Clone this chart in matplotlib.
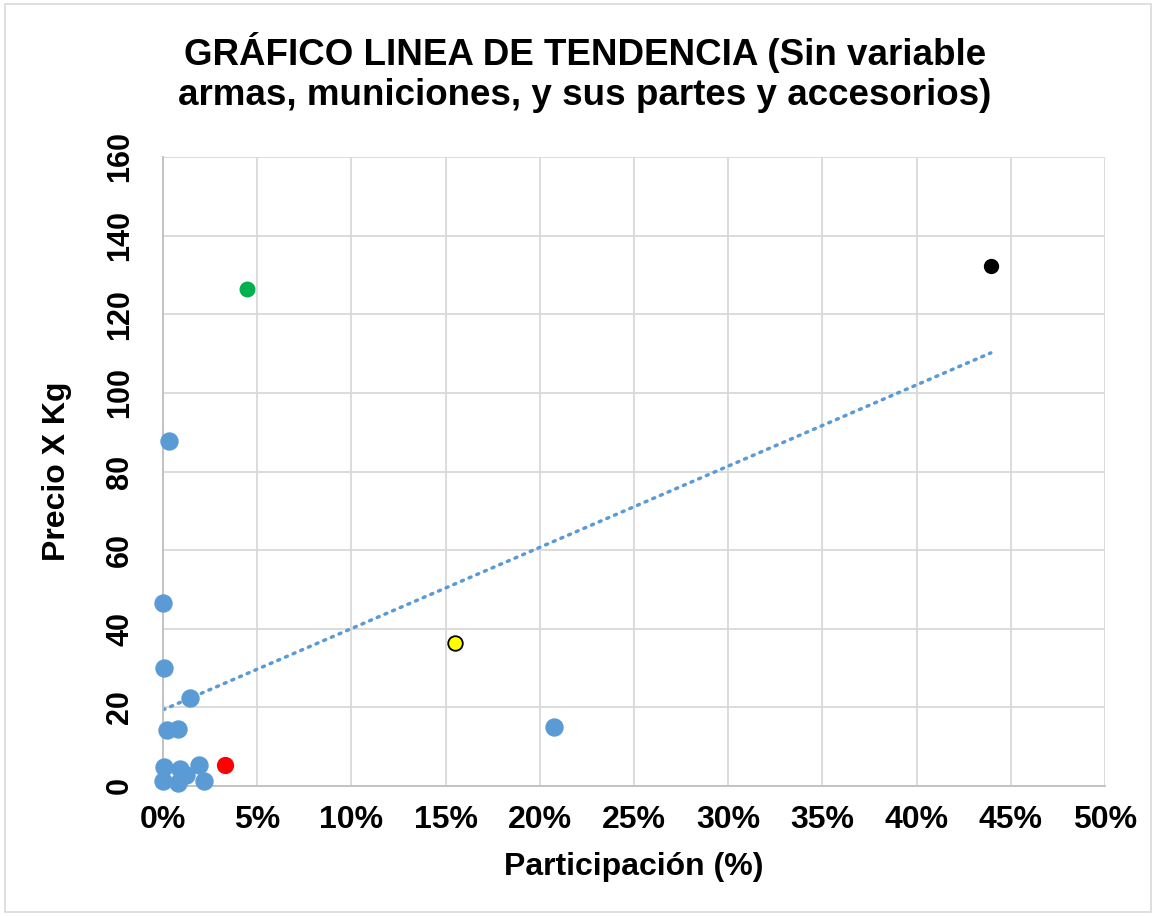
import numpy as np
import matplotlib.pyplot as plt
from matplotlib.patches import Rectangle
from matplotlib.ticker import FuncFormatter

plt.rcParams['font.family'] = ['Liberation Sans', 'DejaVu Sans']

# participación (%) y precio por kg
part_azul = [0.0, 0.07, 1.43, 0.23, 0.78, 0.03, 0.88, 1.91, 1.24, 0.0, 0.82, 2.15, 0.32, 20.74]
precio_azul = [46.5, 30.0, 22.5, 14.2, 14.4, 4.8, 4.3, 5.3, 2.7, 1.3, 0.7, 1.2, 87.8, 15.0]
part_verde, precio_verde = [4.47], [126.3]
part_rojo, precio_rojo = [3.3], [5.3]
part_amarillo, precio_amarillo = [15.48], [36.3]
part_negro, precio_negro = [43.94], [132.2]

x_todos = np.array(part_azul + part_verde + part_rojo + part_amarillo + part_negro)
y_todos = np.array(precio_azul + precio_verde + precio_rojo + precio_amarillo + precio_negro)

fig = plt.figure(figsize=(11.56, 9.16), dpi=100)
fig.patches.append(Rectangle((0.004, 0.004), 0.992, 0.992, transform=fig.transFigure,
                             fill=False, edgecolor='#D9D9D9', lw=1.2))
ax = fig.add_axes([163 / 1156, 1 - 786 / 916, (1105 - 163) / 1156, (786 - 157) / 916])

ax.set_xlim(0, 50)
ax.set_ylim(0, 160)
ax.set_xticks(np.arange(0, 51, 5))
ax.set_yticks(np.arange(0, 161, 20))
ax.xaxis.set_major_formatter(FuncFormatter(lambda v, p: f'{v:.0f}%'))
ax.grid(True, color='#D9D9D9', lw=1.3)
ax.set_axisbelow(True)
for s in ['top', 'right']:
    ax.spines[s].set_visible(False)
for s in ['left', 'bottom']:
    ax.spines[s].set_color('#BFBFBF')
    ax.spines[s].set_linewidth(1.3)
ax.tick_params(axis='x', length=0, labelsize=23, pad=14)
ax.tick_params(axis='y', length=0, labelsize=22, pad=20)
for lbl in ax.get_xticklabels() + ax.get_yticklabels():
    lbl.set_fontweight('bold')
plt.setp(ax.get_yticklabels(), rotation=90, va='center')

# línea de tendencia lineal
m, b = np.polyfit(x_todos, y_todos, 1)
xt = np.array([0, x_todos.max()])
ax.plot(xt, m * xt + b, color='#5B9BD5', lw=2.5, ls=(0, (0.6, 1.8)), dash_capstyle='round')

kw = dict(zorder=3, clip_on=False)
ax.scatter(part_azul, precio_azul, s=150, color='#5B9BD5', **kw)
ax.scatter(part_verde, precio_verde, s=110, color='#00B050', **kw)
ax.scatter(part_rojo, precio_rojo, s=130, color='#FF0000', **kw)
ax.scatter(part_amarillo, precio_amarillo, s=110, color='#FFFF00', edgecolor='black', lw=1.3, **kw)
ax.scatter(part_negro, precio_negro, s=100, color='black', **kw)

ax.set_xlabel('Participación (%)', fontsize=23, fontweight='bold', labelpad=12)
ax.set_ylabel('Precio X Kg', fontsize=23, fontweight='bold', labelpad=24)
fig.text(0.506, 0.921, 'GRÁFICO LINEA DE TENDENCIA (Sin variable\narmas, municiones, y sus partes y accesorios)',
         ha='center', va='center', fontsize=26.5, fontweight='bold', linespacing=1.2)

fig.savefig('out.png', dpi=100)
